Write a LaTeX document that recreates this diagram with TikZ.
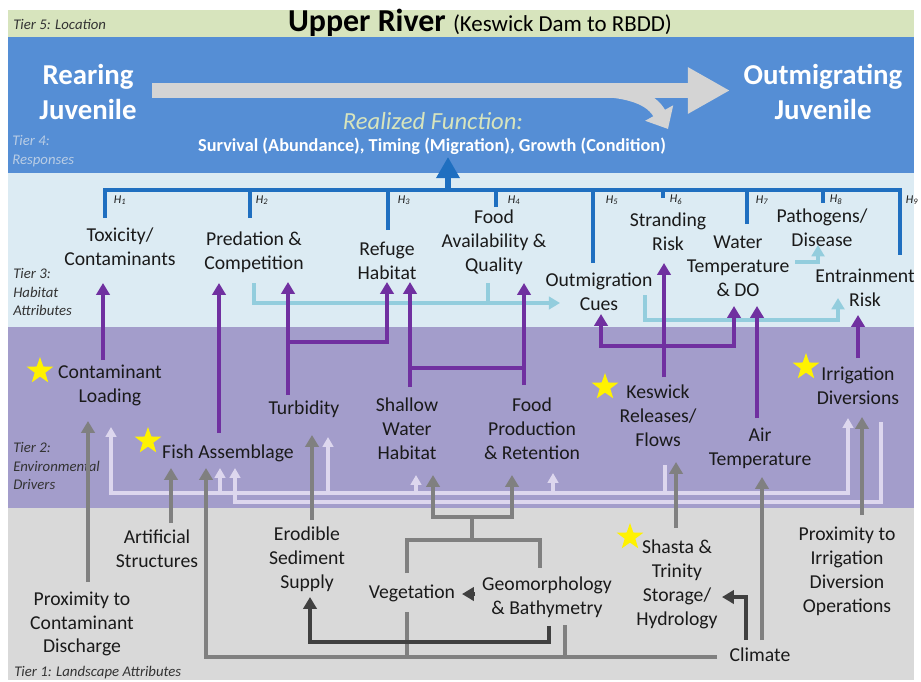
\documentclass[tikz,border=0pt]{standalone}
\usepackage{fontspec}
\setmainfont{Carlito}
\usetikzlibrary{arrows.meta,shapes.geometric,calc}

\definecolor{tfivebg}{HTML}{D7E4BD}
\definecolor{tfourbg}{HTML}{558ED5}
\definecolor{tthreebg}{HTML}{DCEBF3}
\definecolor{ttwobg}{HTML}{A39DCB}
\definecolor{tonebg}{HTML}{D9D9D9}
\definecolor{purpc}{HTML}{7030A0}
\definecolor{lbluec}{HTML}{93CDDD}
\definecolor{grayc}{HTML}{808080}
\definecolor{darkc}{HTML}{404040}
\definecolor{lavc}{HTML}{DDD7EE}
\definecolor{hbluec}{HTML}{1F6FC0}
\definecolor{bigarrowc}{HTML}{D4D4D4}
\definecolor{realc}{HTML}{D7E4BD}
\definecolor{txt}{HTML}{1A1A1A}
\definecolor{tiertxt}{HTML}{333333}
\definecolor{tierfour}{HTML}{B9CDE5}

\tikzset{
  lbl/.style={font=\fontsize{14}{17}\selectfont, align=center, text=txt, inner sep=1pt},
  stage/.style={font=\fontsize{20.5}{24.8}\selectfont\bfseries, align=center, text=white, inner sep=1pt},
  tier/.style={font=\fontsize{10.5}{13}\selectfont\itshape, align=left, anchor=west, text=tiertxt, inner sep=0pt},
  hlab/.style={font=\fontsize{8.5}{9}\selectfont\itshape, text=txt, inner sep=0pt},
  starn/.style={star, star points=5, star point ratio=2.5, fill=yellow, draw=none, minimum size=7mm, inner sep=0pt},
  hbar/.style={draw=hbluec, line width=2.8pt},
  purp/.style={draw=purpc, line width=2.8pt, -{Triangle[width=9.5pt,length=8.5pt]}},
  purpline/.style={draw=purpc, line width=2.8pt},
  lblue/.style={draw=lbluec, line width=2.6pt, -{Triangle[width=9pt,length=8pt]}},
  lbline/.style={draw=lbluec, line width=2.6pt},
  grayar/.style={draw=grayc, line width=2.8pt, -{Triangle[width=9.5pt,length=8.5pt]}},
  grayline/.style={draw=grayc, line width=2.8pt},
  darkar/.style={draw=darkc, line width=3pt, -{Triangle[width=9.5pt,length=8.5pt]}},
  lav/.style={draw=lavc, line width=2.2pt, -{Triangle[width=7.5pt,length=7pt]}},
  lavline/.style={draw=lavc, line width=2.2pt}
}

\begin{document}
\begin{tikzpicture}[x=0.25mm,y=-0.25mm]
\useasboundingbox (0,0) rectangle (921,681);

% tiers
\fill[tfivebg] (8,10) rectangle (914,37);
\fill[tfourbg] (8,37) rectangle (914,173);
\fill[tthreebg] (8,173) rectangle (914,327);
\fill[ttwobg] (8,327) rectangle (914,508);
\fill[tonebg] (8,508) rectangle (914,680);

\node[tier, text=tiertxt] (t5) at (13,24) {Tier 5: Location};
\node[tier, text=tierfour] (t4) at (12,151) {Tier 4:\\Responses};
\node[tier] (t3) at (13,292) {Tier 3:\\Habitat\\Attributes};
\node[tier] (t2) at (13,466) {Tier 2:\\Environmental\\Drivers};
\node[tier] (t1) at (14,673) {Tier 1: Landscape Attributes};

\node[anchor=base, inner sep=0pt, text=black] (loc) at (480,31)
  {\fontsize{22.7}{27}\selectfont\bfseries Upper River \fontsize{16.3}{20}\selectfont\mdseries(Keswick Dam to RBDD)};

% tier 4
\node[stage] (rear) at (88,92) {Rearing\\Juvenile};
\node[stage] (outj) at (823,92) {Outmigrating\\Juvenile};
\draw[draw=bigarrowc, line width=10.5pt, -{Triangle[width=31pt,length=30pt]}] ($(rear)+(64,-1.5)$) -- ($(outj)+(-93,-1.5)$);
\draw[draw=bigarrowc, line width=9.5pt, -{Triangle[width=22pt,length=13pt]}] (575,90) .. controls (632,88) and (652,100) .. (668,129);
\node[font=\fontsize{17.5}{21}\selectfont\itshape, text=realc, inner sep=1pt] (realized) at (433,121) {Realized Function:};
\node[font=\fontsize{13}{16}\selectfont\bfseries, text=white, inner sep=1pt] (resp) at (432,146) {Survival (Abundance), Timing (Migration), Growth (Condition)};

% tier 3
\node[lbl] (tox) at (120,247) {Toxicity/\\Contaminants};
\node[lbl] (pred) at (254,252) {Predation \&\\Competition};
\node[lbl] (refuge) at (387,261) {Refuge\\Habitat};
\node[lbl] (food) at (494,242) {Food\\Availability \&\\Quality};
\node[lbl] (outcue) at (599,292) {Outmigration\\Cues};
\node[lbl] (strand) at (668,232) {Stranding\\Risk};
\node[lbl] (wtemp) at (738,266) {Water\\Temperature\\\& DO};
\node[lbl] (patho) at (822,228) {Pathogens/\\Disease};
\node[lbl] (entrain) at (865,288) {Entrainment\\Risk};

\coordinate (hub) at (448,190);
\draw[hbar] ($(tox)+(-15,-29)$) -- ++(0,-28) -| ($(entrain)+(35,-33)$);
\draw[hbar] ($(pred)+(-4,-34)$) -- ++(0,-28);
\draw[hbar] ($(refuge)+(1,-31)$) -- ++(0,-40);
\draw[hbar] ($(food)+(2,-35)$) -- ++(0,-17);
\draw[hbar] ($(outcue)+(-6,-29)$) -- ++(0,-73);
\draw[hbar] ($(strand)+(-5,-34)$) -- ++(0,-8);
\draw[hbar] ($(wtemp)+(9,-42)$) -- ++(0,-34);
\draw[hbar] ($(patho)+(1,-25)$) -- ++(0,-13);
\draw[hbar, line width=3.6pt, -{Triangle[width=16pt,length=15pt]}] (hub) -- ($(resp)+(16,11)$);

\node[hlab] (h1) at (120,200) {H\textsubscript{1}};
\node[hlab] (h2) at (262,200) {H\textsubscript{2}};
\node[hlab] (h3) at (404,200) {H\textsubscript{3}};
\node[hlab] (h4) at (514,200) {H\textsubscript{4}};
\node[hlab] (h5) at (612,200) {H\textsubscript{5}};
\node[hlab] (h6) at (676,200) {H\textsubscript{6}};
\node[hlab] (h7) at (762,200) {H\textsubscript{7}};
\node[hlab] (h8) at (836,200) {H\textsubscript{8}};
\node[hlab] (h9) at (912,200) {H\textsubscript{9}};

\draw[lblue] ($(pred)+(0,31)$) |- ($(outcue)+(-39,11)$);
\draw[lbline] ($(food)+(-6,41)$) -- ++(0,20);
\draw[lblue] ($(outcue)+(46,3)$) -- ++(0,25) -| ($(entrain)+(-27,10)$);
\draw[lblue] ($(wtemp)+(57,-4)$) -| ($(patho)+(-4,17)$);

% tier 2
\node[lbl] (conload) at (110,385) {Contaminant\\Loading};
\node[lbl] (fish) at (228,453) {Fish Assemblage};
\node[lbl] (turb) at (304,409) {Turbidity};
\node[lbl] (shallow) at (407,429) {Shallow\\Water\\Habitat};
\node[lbl] (foodprod) at (532,429) {Food\\Production\\\& Retention};
\node[lbl] (keswick) at (658,416) {Keswick\\Releases/\\Flows};
\node[lbl] (airtemp) at (760,448) {Air\\Temperature};
\node[lbl] (irrig) at (858,386) {Irrigation\\Diversions};

\node[starn] (s1) at (40,371) {};
\node[starn] (s2) at (148,441) {};
\node[starn] (s3) at (605,387) {};
\node[starn] (s4) at (806,367) {};

\draw[purp] ($(conload)+(-7,-25)$) -- ($(tox)+(-17,36)$);
\draw[purp] ($(fish)+(-9,-20)$) -- ($(pred)+(-35,31)$);
\draw[purp] ($(turb)+(-16,-14)$) -- ($(pred)+(34,30)$);
\draw[purp] ($(turb)+(-16,-67)$) -| ($(refuge)+(0,21)$);
\draw[purp] ($(shallow)+(3,-42)$) -- ($(refuge)+(23,21)$);
\draw[purp] ($(foodprod)+(-8,-44)$) -- ($(food)+(30,41)$);
\draw[purpline] ($(shallow)+(3,-61)$) -- ($(foodprod)+(-8,-61)$);
\draw[purp] ($(keswick)+(6,-39)$) -- ($(strand)+(-4,31)$);
\draw[purp] ($(keswick)+(6,-70)$) -| ($(outcue)+(2,22)$);
\draw[purp] ($(keswick)+(6,-70)$) -| ($(wtemp)+(-4,40)$);
\draw[purp] ($(airtemp)+(-3,-30)$) -- ($(wtemp)+(19,40)$);
\draw[purp] ($(irrig)+(0,-28)$) -- ($(entrain)+(-7,27)$);

\draw[lav] ($(keswick)+(7,49)$) -- ++(0,28) -| ($(conload)+(1,42)$);
\draw[lav] ($(keswick)+(7,77)$) -| ($(irrig)+(-10,32)$);
\draw[lav] ($(fish)+(-8,40)$) -- ($(fish)+(-8,15)$);
\draw[lav] ($(turb)+(24,84)$) -- ($(turb)+(24,28)$);
\draw[lav] ($(shallow)+(9,64)$) -- ($(shallow)+(9,46)$);
\draw[lav] ($(foodprod)+(21,64)$) -- ($(foodprod)+(21,44)$);
\draw[lav] ($(irrig)+(23,36)$) -- ++(0,80) -| ($(fish)+(7,15)$);

% tier 1
\node[lbl] (proxcon) at (82,624) {Proximity to\\Contaminant\\Discharge};
\node[lbl] (artif) at (157,549) {Artificial\\Structures};
\node[lbl] (erod) at (307,559) {Erodible\\Sediment\\Supply};
\node[lbl] (veg) at (412,593) {Vegetation};
\node[lbl] (geo) at (547,597) {Geomorphology\\\& Bathymetry};
\node[lbl] (shasta) at (677,584) {Shasta \&\\Trinity\\Storage/\\Hydrology};
\node[lbl] (climate) at (760,655) {Climate};
\node[lbl] (proxirr) at (847,571) {Proximity to\\Irrigation\\Diversion\\Operations};
\node[starn] (s5) at (630,537) {};

\draw[grayar] ($(proxcon)+(6,-42)$) -- ($(conload)+(-22,36)$);
\draw[grayar] ($(artif)+(14,-26)$) -- ($(fish)+(-57,15)$);
\draw[grayar] ($(climate)+(-43,2)$) -| ($(fish)+(-22,15)$);
\draw[grayline] ($(veg)+(-5,19)$) -- ++(0,45);
\draw[grayline] ($(geo)+(18,28)$) -- ++(0,32);
\draw[grayar] ($(erod)+(5,-39)$) -- ($(turb)+(8,26)$);
\draw[grayline] ($(veg)+(-5,-20)$) |- ($(geo)+(-7,-57)$) -- ($(geo)+(-7,-29)$);
\draw[grayline] ($(veg)+(60,-53)$) -- ++(0,-23);
\draw[grayar] ($(foodprod)+(-20,88)$) -| ($(shallow)+(26,46)$);
\draw[grayar] ($(shallow)+(26,88)$) -| ($(foodprod)+(-20,46)$);
\draw[grayar] ($(shasta)+(-1,-56)$) -- ($(keswick)+(18,46)$);
\draw[grayar] ($(climate)+(2,-15)$) -- ($(airtemp)+(2,29)$);
\draw[grayar] ($(proxirr)+(15,-56)$) -- ($(irrig)+(4,31)$);

\draw[darkar] ($(geo)+(2,29)$) -- ++(0,16) -| ($(erod)+(3,38)$);
\draw[darkar] ($(geo)+(-72,-3)$) -- ($(veg)+(50,1)$);
\draw[darkar] ($(climate)+(-14,-15)$) |- ($(shasta)+(45,13)$);
\end{tikzpicture}
\end{document}
